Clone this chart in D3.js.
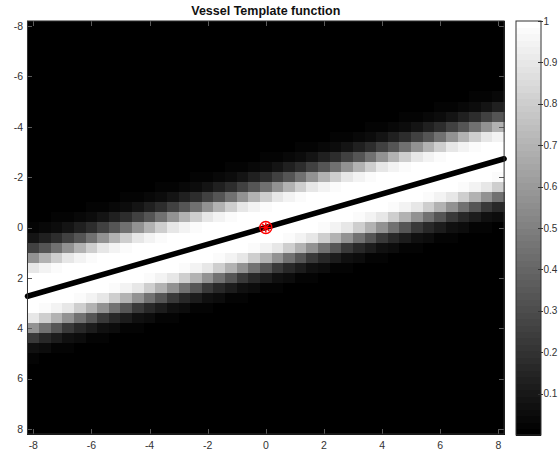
<!DOCTYPE html>
<html>
<head>
<meta charset="utf-8">
<script src="https://cdn.jsdelivr.net/npm/d3@7"></script>
<style>
  html, body { margin: 0; padding: 0; background: #fff; }
  svg { display: block; }
  text { font-family: "Liberation Sans", Arial, Helvetica, sans-serif; }
</style>
</head>
<body>
<svg id="chart" width="558" height="453"></svg>
<script>
// Sample positions of the template grid (both axes share them)
const gridPos = [-8, -7.6, -7.2, -6.8, -6.4, -6, -5.6, -5.2, -4.8, -4.4, -4, -3.6, -3.2, -2.8, -2.4, -2,
  -1.6, -1.2, -0.8, -0.4, 0, 0.4, 0.8, 1.2, 1.6, 2, 2.4, 2.8, 3.2, 3.6, 4, 4.4, 4.8, 5.2, 5.6, 6, 6.4,
  6.8, 7.2, 7.6, 8];

// Cross-section of the vessel ridge: offset across the ridge, in thirds of a grid row,
// and the template value found at that offset
const ridgeOffset = [-22, -21, -20, -19, -18, -17, -16, -15, -14, -13, -12, -11, -10, -9, -8, -7, -6, -5,
  -4, -3, -2, -1, 0, 1, 2, 3, 4, 5, 6, 7, 8, 9, 10, 11, 12, 13, 14, 15, 16, 17, 18, 19, 20, 21, 22];
const ridgeValue = [0.01, 0.02, 0.03, 0.04, 0.06, 0.09, 0.13, 0.18, 0.25, 0.34, 0.45, 0.57, 0.69, 0.81,
  0.9, 0.95, 0.98, 0.99, 1, 1, 1, 1, 1, 1, 1, 1, 1, 0.98, 0.95, 0.9, 0.81, 0.69, 0.57, 0.44, 0.33,
  0.23, 0.16, 0.11, 0.07, 0.05, 0.03, 0.02, 0.01, 0.005, 0.003];

// Vessel centre line and its centre point
const vesselLineX = [-8.2, 8.2];
const vesselLineY = [2.73, -2.73];
const centrePoint = [0, 0];

// Tick labels
const axisTicks = [-8, -6, -4, -2, 0, 2, 4, 6, 8];
const colorTicks = [0.1, 0.2, 0.3, 0.4, 0.5, 0.6, 0.7, 0.8, 0.9, 1];

const titleText = "Vessel Template function";

// ---- build the grid of cells (ridge runs one row per three columns) ----
const profile = new Map(ridgeOffset.map((m, k) => [m, ridgeValue[k]]));
const cells = [];
gridPos.forEach((gx, i) => {
  gridPos.forEach((gy, j) => {
    const m = 3 * j + i - 80;
    cells.push({ x: gx, y: gy, v: profile.has(m) ? profile.get(m) : 0 });
  });
});

const svg = d3.select("#chart");

const x = d3.scaleLinear().domain([-8, 8]).range([33.3, 498.3]);
const y = d3.scaleLinear().domain([-8, 8]).range([26, 429]);
const half = 0.2;
const plotL = x(-8 - half), plotR = x(8 + half), plotT = y(-8 - half), plotB = y(8 + half);

// gray(64) colormap, value range 0..1
const nLevels = 64;
function grayOf(v) {
  const k = Math.max(0, Math.min(nLevels - 1, Math.floor(v * nLevels)));
  const g = Math.round(255 * k / (nLevels - 1));
  return `rgb(${g},${g},${g})`;
}

// ---- image ----
const cw = x(half) - x(-half), ch = y(half) - y(-half);
svg.append("g")
  .attr("shape-rendering", "crispEdges")
  .selectAll("rect").data(cells).join("rect")
  .attr("x", d => x(d.x - half))
  .attr("y", d => y(d.y - half))
  .attr("width", cw + 0.5)
  .attr("height", ch + 0.5)
  .attr("fill", d => grayOf(d.v));

// ---- ticks inside the axes ----
const tickLen = 5;
const tickG = svg.append("g").attr("stroke", "#5a5a5a").attr("stroke-width", 1)
  .attr("shape-rendering", "crispEdges");
axisTicks.forEach(t => {
  const px = Math.round(x(t)) + 0.5, py = Math.round(y(t)) + 0.5;
  tickG.append("line").attr("x1", px).attr("x2", px).attr("y1", plotT).attr("y2", plotT + tickLen);
  tickG.append("line").attr("x1", px).attr("x2", px).attr("y1", plotB).attr("y2", plotB - tickLen);
  tickG.append("line").attr("y1", py).attr("y2", py).attr("x1", plotL).attr("x2", plotL + tickLen);
  tickG.append("line").attr("y1", py).attr("y2", py).attr("x1", plotR).attr("x2", plotR - tickLen);
});

// ---- vessel centre line ----
const lineGen = d3.line().x(d => x(d[0])).y(d => y(d[1]));
svg.append("path")
  .datum(vesselLineX.map((vx, k) => [vx, vesselLineY[k]]))
  .attr("d", lineGen)
  .attr("fill", "none")
  .attr("stroke", "#000")
  .attr("stroke-width", 5.5)
  .attr("stroke-linecap", "round");

// ---- centre marker (circle with star) ----
const cx = x(centrePoint[0]), cy = y(centrePoint[1]);
const mk = svg.append("g").attr("stroke", "#ff0000").attr("fill", "none").attr("stroke-width", 1.4);
mk.append("circle").attr("cx", cx).attr("cy", cy).attr("r", 6);
[0, 45, 90, 135].forEach(a => {
  const r = a * Math.PI / 180, L = 5;
  mk.append("line")
    .attr("x1", cx - L * Math.cos(r)).attr("y1", cy - L * Math.sin(r))
    .attr("x2", cx + L * Math.cos(r)).attr("y2", cy + L * Math.sin(r));
});

// ---- axes box ----
svg.append("rect")
  .attr("x", plotL).attr("y", plotT)
  .attr("width", plotR - plotL).attr("height", plotB - plotT)
  .attr("fill", "none").attr("stroke", "#333").attr("stroke-width", 1);

// ---- tick labels ----
const labelColor = "#333";
svg.append("g").selectAll("text").data(axisTicks).join("text")
  .attr("x", d => x(d))
  .attr("y", 449)
  .attr("text-anchor", "middle")
  .attr("font-size", 10.5)
  .attr("fill", labelColor)
  .text(d => d);
svg.append("g").selectAll("text").data(axisTicks).join("text")
  .attr("x", 23)
  .attr("y", d => y(d) + 3.8)
  .attr("text-anchor", "end")
  .attr("font-size", 10.5)
  .attr("fill", labelColor)
  .text(d => d);

// ---- title ----
svg.append("text")
  .attr("x", (plotL + plotR) / 2)
  .attr("y", 14.5)
  .attr("text-anchor", "middle")
  .attr("font-size", 12.5)
  .attr("font-weight", "bold")
  .attr("fill", "#111")
  .text(titleText);

// ---- colour bar ----
const cbL = 516, cbR = 541, cbT = 21, cbB = 435;
const c = d3.scaleLinear().domain([0, 1]).range([cbB, cbT]);
const levels = d3.range(nLevels);
svg.append("g").attr("shape-rendering", "crispEdges")
  .selectAll("rect").data(levels).join("rect")
  .attr("x", cbL).attr("width", cbR - cbL)
  .attr("y", k => c((k + 1) / nLevels))
  .attr("height", k => c(k / nLevels) - c((k + 1) / nLevels) + 0.5)
  .attr("fill", k => { const g = Math.round(255 * k / (nLevels - 1)); return `rgb(${g},${g},${g})`; });
svg.append("rect")
  .attr("x", cbL).attr("y", cbT).attr("width", cbR - cbL).attr("height", cbB - cbT)
  .attr("fill", "none").attr("stroke", "#333").attr("stroke-width", 1);
const cbTicks = svg.append("g").attr("stroke", "#333").attr("shape-rendering", "crispEdges");
colorTicks.forEach(t => {
  const py = Math.round(c(t)) + 0.5;
  cbTicks.append("line").attr("x1", cbR - 3).attr("x2", cbR + 2).attr("y1", py).attr("y2", py);
});
svg.append("g").selectAll("text").data(colorTicks).join("text")
  .attr("x", 543.5)
  .attr("y", d => c(d) + 3.5)
  .attr("font-size", 10)
  .attr("fill", labelColor)
  .text(d => d);
</script>
</body>
</html>
